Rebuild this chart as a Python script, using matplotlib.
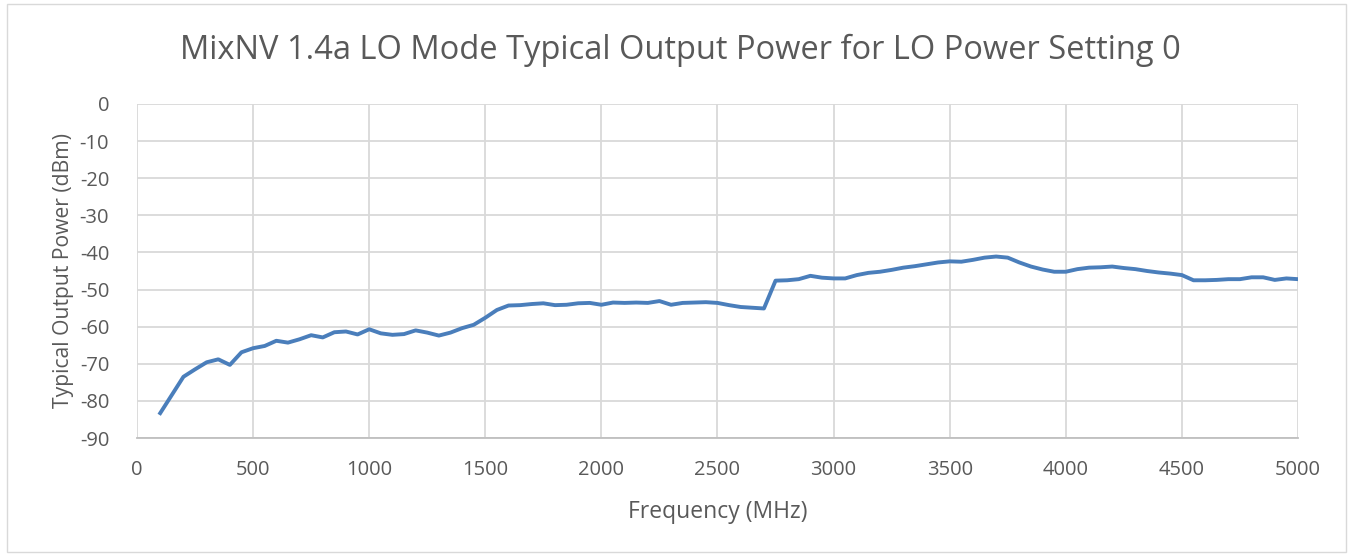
import matplotlib.pyplot as plt
from matplotlib.patches import Rectangle

plt.rcParams['font.family'] = ['Open Sans', 'DejaVu Sans']
plt.rcParams['axes.unicode_minus'] = False

freq_mhz = list(range(100, 5001, 50))
power_dbm = [
    -83.3, -78.4, -73.5, -71.5, -69.6, -68.8, -70.3, -66.9, -65.8, -65.2,
    -63.8, -64.3, -63.4, -62.3, -62.9, -61.5, -61.3, -62.1, -60.7, -61.8,
    -62.2, -62.0, -61.0, -61.6, -62.4, -61.6, -60.4, -59.5, -57.6, -55.5,
    -54.3, -54.2, -53.9, -53.7, -54.2, -54.1, -53.7, -53.6, -54.1, -53.5,
    -53.6, -53.5, -53.6, -53.1, -54.1, -53.6, -53.5, -53.4, -53.6, -54.2,
    -54.7, -54.9, -55.1, -47.6, -47.5, -47.2, -46.3, -46.8, -47.0, -47.0,
    -46.1, -45.5, -45.2, -44.7, -44.1, -43.7, -43.2, -42.7, -42.4, -42.5,
    -42.0, -41.4, -41.1, -41.4, -42.7, -43.8, -44.6, -45.2, -45.2, -44.5,
    -44.1, -44.0, -43.8, -44.2, -44.5, -45.0, -45.4, -45.7, -46.1, -47.5,
    -47.5, -47.4, -47.2, -47.2, -46.7, -46.7, -47.4, -47.0, -47.2,
]
x_ticks = list(range(0, 5001, 500))
y_ticks = list(range(-90, 1, 10))

text_color = '#595959'
grid_color = '#d9d9d9'

fig = plt.figure(figsize=(13.53, 5.56), dpi=100)
fig.patches.append(Rectangle((0.005, 0.007), 0.99, 0.985, transform=fig.transFigure,
                             fill=False, edgecolor='#d9d9d9', linewidth=1))
ax = fig.add_axes([137 / 1353, 1 - 438 / 556, (1298 - 137) / 1353, (438 - 104) / 556])

ax.plot(freq_mhz, power_dbm, color='#4A7EBB', linewidth=2.8, solid_joinstyle='round')

ax.set_xlim(0, 5000)
ax.set_ylim(-90, 0)
ax.set_xticks(x_ticks)
ax.set_yticks(y_ticks)
ax.grid(True, color=grid_color, linewidth=1.3)
ax.set_axisbelow(True)
for side in ['top', 'right', 'left']:
    ax.spines[side].set_visible(False)
ax.spines['bottom'].set_color('#bfbfbf')
ax.spines['bottom'].set_linewidth(1.3)
ax.tick_params(length=0, labelsize=14.5, labelcolor=text_color)
ax.tick_params(axis='x', pad=16)
ax.tick_params(axis='y', pad=20)

ax.set_xlabel('Frequency (MHz)', fontsize=16.5, color=text_color, labelpad=14)
ax.set_ylabel('Typical Output Power (dBm)', fontsize=15.2, color=text_color, labelpad=4)
fig.text(0.5025, 1 - 50 / 556, 'MixNV 1.4a LO Mode Typical Output Power for LO Power Setting 0',
         ha='center', va='center', fontsize=23.5, color=text_color)

fig.savefig('out.png', dpi=100)
